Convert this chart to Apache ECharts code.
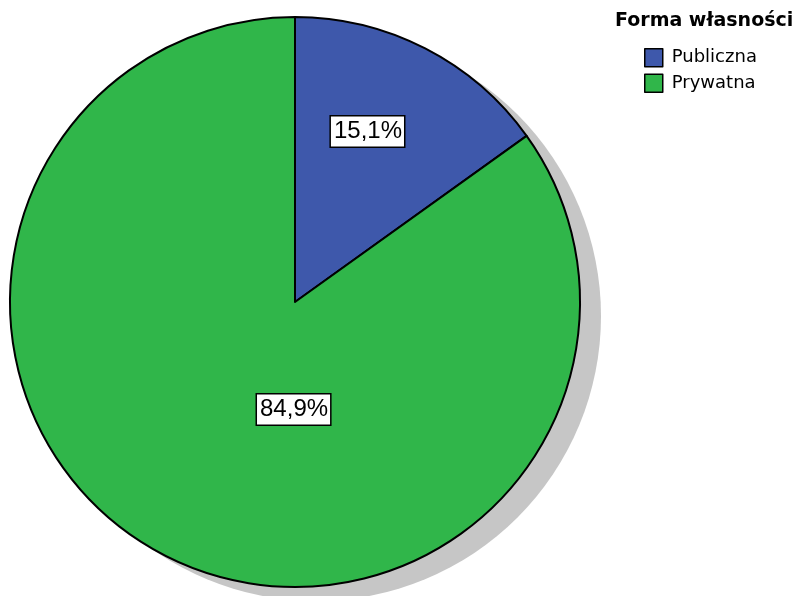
<!DOCTYPE html>
<html>
<head>
<meta charset="utf-8">
<script src="https://cdn.jsdelivr.net/npm/echarts@6/dist/echarts.min.js"></script>
<style>
  html, body { margin: 0; padding: 0; background: #ffffff; }
  #chart { width: 798px; height: 596px; }
</style>
</head>
<body>
<div id="chart"></div>
<script>
// Ownership form shares (percent)
const categories = ['Publiczna', 'Prywatna'];
const shares = [15.1, 84.9];
const legendTitle = 'Forma własności';

const sliceColors = ['#3e58ab', '#30b64a'];
// Label nudges away from the default mid-radius spot, per slice
const labelNudge = [[6, -41], [65, -22]];

const pieCenter = [295, 302];
const pieRadius = 285;

const chart = echarts.init(document.getElementById('chart'), null, { renderer: 'canvas' });

const fmt = v => v.toFixed(1).replace('.', ',') + '%';

chart.setOption({
  animation: false,
  backgroundColor: '#ffffff',
  title: {
    text: legendTitle,
    left: 610,
    top: 7,
    textStyle: {
      fontFamily: 'DejaVu Sans',
      fontSize: 19,
      fontWeight: 'bold',
      color: '#000000'
    }
  },
  legend: {
    data: categories,
    orient: 'vertical',
    left: 644,
    top: 48,
    padding: 0,
    itemWidth: 18,
    itemHeight: 18,
    itemGap: 6,
    selectedMode: false,
    icon: 'rect',
    itemStyle: { borderColor: '#000000', borderWidth: 1.5 },
    textStyle: {
      fontFamily: 'DejaVu Sans',
      fontSize: 18,
      color: '#000000',
      padding: [0, 0, 0, 4]
    }
  },
  series: [
    {
      // drop shadow disc behind the pie
      type: 'pie',
      silent: true,
      z: 1,
      center: [pieCenter[0] + 21, pieCenter[1] + 14],
      radius: pieRadius,
      label: { show: false },
      labelLine: { show: false },
      itemStyle: { color: '#c6c6c6', borderWidth: 0 },
      data: [{ name: '_shadow', value: 1 }],
      emphasis: { disabled: true }
    },
    {
      type: 'pie',
      z: 2,
      center: pieCenter,
      radius: pieRadius,
      startAngle: 90,
      clockwise: true,
      avoidLabelOverlap: false,
      silent: true,
      data: categories.map((name, i) => ({
        name,
        value: shares[i],
        itemStyle: { color: sliceColors[i] }
      })),
      itemStyle: { borderColor: '#000000', borderWidth: 2 },
      label: {
        show: true,
        position: 'inside',
        formatter: p => fmt(p.value),
        fontFamily: 'Liberation Sans',
        fontSize: 24,
        color: '#000000',
        backgroundColor: '#ffffff',
        borderColor: '#000000',
        borderWidth: 1.5,
        padding: [4, 2, 2, 3]
      },
      labelLine: { show: false },
      labelLayout: params => ({
        dx: labelNudge[params.dataIndex][0],
        dy: labelNudge[params.dataIndex][1]
      }),
      emphasis: { disabled: true }
    }
  ]
});
</script>
</body>
</html>
